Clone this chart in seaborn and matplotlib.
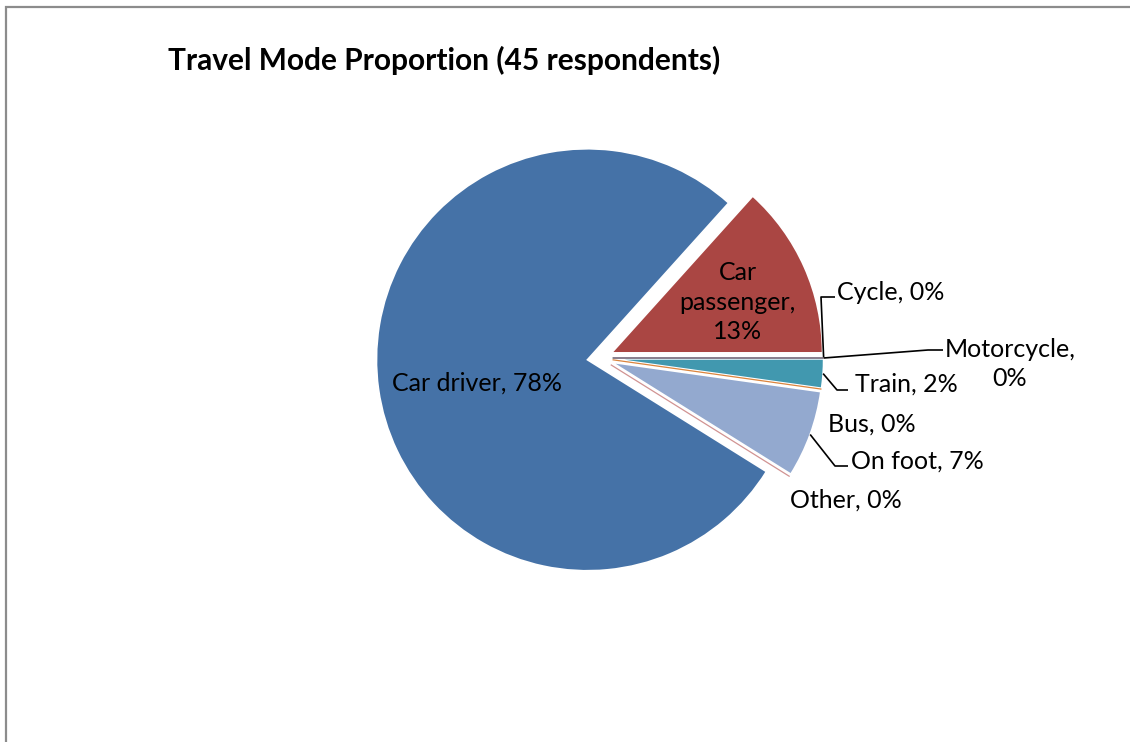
import numpy as np
import matplotlib
matplotlib.use("Agg")
import matplotlib.pyplot as plt
from matplotlib.patches import Rectangle
import seaborn as sns

# Survey data: travel mode of 45 respondents
modes = ["Car driver", "Car passenger", "Cycle", "Motorcycle", "Train", "Bus", "On foot", "Other"]
counts = [35, 6, 0, 0, 1, 0, 3, 0]
colors = ["#4572A7", "#AA4643", "#89A54E", "#71588F", "#4198AF", "#DB843D", "#93A9CF", "#D19392"]
title = "Travel Mode Proportion (45 respondents)"

sns.set_theme(style="white")
plt.rcParams["font.family"] = ["Lato", "DejaVu Sans"]

W, H = 1130, 742
fig = plt.figure(figsize=(W / 100, H / 100), dpi=100)
ax = fig.add_axes([0, 0, 1, 1])

total = sum(counts)
pcts = [c / total * 100 for c in counts]

# pie geometry (axes units are pixels, y measured upward)
cx, cy, R = 600.0, H - 358.0, 211.0
explode_dist = 0.06 * R
start = -32.0

wedges, _ = ax.pie(counts, colors=colors, startangle=start, counterclock=False,
                   radius=R, center=(cx, cy), explode=[explode_dist] * len(counts),
                   wedgeprops=dict(edgecolor="white", linewidth=1.2))
for w, c, col in zip(wedges, counts, colors):
    if c == 0:
        w.set_edgecolor(col)
        w.set_linewidth(0.9)
        w.set_zorder(5)

ax.set_xlim(0, W)
ax.set_ylim(0, H)
ax.set_aspect("equal")
ax.axis("off")


def wedge_info(w):
    mid = np.deg2rad((w.theta1 + w.theta2) / 2)
    ox, oy = w.center
    return mid, ox, oy


def rim_point(w):
    mid, ox, oy = wedge_info(w)
    return ox + w.r * np.cos(mid), oy + w.r * np.sin(mid)


labels = [f"{m}, {p:.0f}%" for m, p in zip(modes, pcts)]
fs = 18
txt = dict(fontsize=fs, color="black")

# labels placed inside the two large wedges (radial fraction, pixel nudge)
for i, frac, (dx, dy) in [(0, 0.53, (0, -8)), (1, 0.65, (1, -5))]:
    w = wedges[i]
    mid, ox, oy = wedge_info(w)
    x = ox + w.r * frac * np.cos(mid) + dx
    y = oy + w.r * frac * np.sin(mid) + dy
    text = labels[i] if i == 0 else "Car\npassenger,\n13%"
    ax.text(x, y, text, ha="center", va="center", linespacing=1.32, **txt)

# outside labels with leader lines: (index, text, text anchor, elbow points)
outside = [
    (2, "Cycle, 0%", (837, H - 293), [(821, H - 297), (835, H - 297)]),
    (3, "Motorcycle,\n0%", (1010, H - 364), [(928, H - 350), (943, H - 350)]),
    (4, "Train, 2%", (855, H - 384), [(837, H - 390), (848, H - 390)]),
    (6, "On foot, 7%", (851, H - 461), [(835, H - 466), (848, H - 466)]),
]
for i, text, (tx, ty), pts in outside:
    x0, y0 = rim_point(wedges[i])
    xs = [x0] + [p[0] for p in pts]
    ys = [y0] + [p[1] for p in pts]
    ax.plot(xs, ys, color="black", lw=1.2, solid_capstyle="butt")
    ha = "center" if "\n" in text else "left"
    ax.text(tx, ty, text, ha=ha, va="center", linespacing=1.32, **txt)

# zero-share labels without leaders
ax.text(828, H - 424, labels[5], ha="left", va="center", **txt)
ax.text(790, H - 500, labels[7], ha="left", va="center", **txt)

ax.text(168, H - 60, title, ha="left", va="center", fontsize=21.5,
        fontweight="bold", color="black")

# chart area border
fig.patches.append(Rectangle((5.5, -20), W + 40, H - 7 + 20, transform=None,
                             fill=False, edgecolor="#8c8c8c", linewidth=1.6))

fig.savefig("out.png", dpi=100, facecolor="white")
